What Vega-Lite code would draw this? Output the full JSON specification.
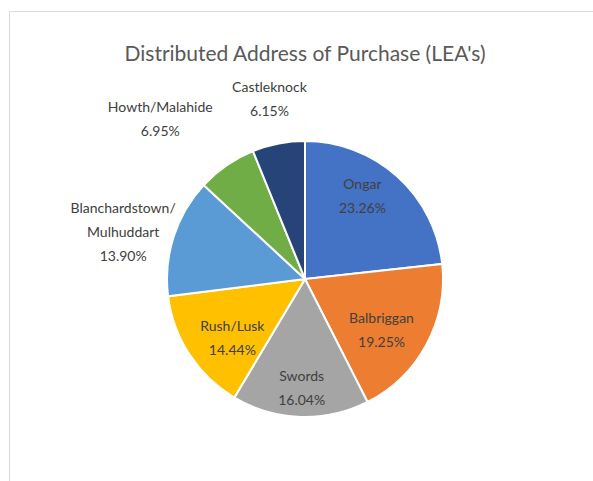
{
  "$schema": "https://vega.github.io/schema/vega-lite/v6.json",
  "autosize": "none",
  "width": 592,
  "height": 536,
  "padding": {"left": 9, "top": 11, "right": 0, "bottom": 0},
  "background": "white",
  "view": {"stroke": "#D9D9D9", "strokeWidth": 1, "fill": "white"},
  "title": {
    "text": "Distributed Address of Purchase (LEA's)",
    "font": "Lato",
    "fontSize": 21,
    "fontWeight": "normal",
    "color": "#595959",
    "anchor": "middle",
    "baseline": "alphabetic",
    "offset": -71
  },
  "data": {
    "values": [
      {"name": "Ongar", "pct": 23.26},
      {"name": "Balbriggan", "pct": 19.25},
      {"name": "Swords", "pct": 16.04},
      {"name": "Rush/Lusk", "pct": 14.44},
      {"name": "Blanchardstown/Mulhuddart", "pct": 13.90},
      {"name": "Howth/Malahide", "pct": 6.95},
      {"name": "Castleknock", "pct": 6.15}
    ]
  },
  "transform": [
    {"calculate": "replace(datum.name, 'n/', 'n/\\n') + '\\n' + format(datum.pct, '.2f') + '%'", "as": "label"}
  ],
  "encoding": {
    "theta": {"field": "pct", "type": "quantitative", "stack": true},
    "order": {"field": "pct", "type": "quantitative", "sort": "descending"}
  },
  "layer": [
    {
      "mark": {"type": "arc", "outerRadius": 138, "stroke": "white", "strokeWidth": 2},
      "encoding": {
        "color": {
          "field": "name",
          "type": "nominal",
          "legend": null,
          "scale": {
            "domain": ["Ongar", "Balbriggan", "Swords", "Rush/Lusk", "Blanchardstown/Mulhuddart", "Howth/Malahide", "Castleknock"],
            "range": ["#4472C4", "#ED7D31", "#A5A5A5", "#FFC000", "#5B9BD5", "#70AD47", "#264478"]
          }
        }
      }
    },
    {
      "mark": {"type": "text", "radius": 101, "dx": -10, "dy": -19, "font": "Lato", "fontSize": 14, "color": "#404040", "lineBreak": "\n", "lineHeight": 24, "baseline": "middle"},
      "encoding": {"text": {"condition": {"test": "datum.name == 'Ongar'", "field": "label"}, "value": ""}}
    },
    {
      "mark": {"type": "text", "radius": 87, "dx": 0, "dy": -1, "font": "Lato", "fontSize": 14, "color": "#404040", "lineBreak": "\n", "lineHeight": 24, "baseline": "middle"},
      "encoding": {"text": {"condition": {"test": "datum.name == 'Balbriggan'", "field": "label"}, "value": ""}}
    },
    {
      "mark": {"type": "text", "radius": 98, "font": "Lato", "fontSize": 14, "color": "#404040", "lineBreak": "\n", "lineHeight": 24, "baseline": "middle"},
      "encoding": {"text": {"condition": {"test": "datum.name == 'Swords'", "field": "label"}, "value": ""}}
    },
    {
      "mark": {"type": "text", "radius": 94, "dx": 6, "dy": -3, "font": "Lato", "fontSize": 14, "color": "#404040", "lineBreak": "\n", "lineHeight": 24, "baseline": "middle"},
      "encoding": {"text": {"condition": {"test": "datum.name == 'Rush/Lusk'", "field": "label"}, "value": ""}}
    },
    {
      "mark": {"type": "text", "radius": 191, "dy": -12, "font": "Lato", "fontSize": 14, "color": "#404040", "lineBreak": "\n", "lineHeight": 24, "baseline": "middle"},
      "encoding": {"text": {"condition": {"test": "datum.name == 'Blanchardstown/Mulhuddart'", "field": "label"}, "value": ""}}
    },
    {
      "mark": {"type": "text", "radius": 200, "dx": -31, "dy": -6, "font": "Lato", "fontSize": 14, "color": "#404040", "lineBreak": "\n", "lineHeight": 24, "baseline": "middle"},
      "encoding": {"text": {"condition": {"test": "datum.name == 'Howth/Malahide'", "field": "label"}, "value": ""}}
    },
    {
      "mark": {"type": "text", "radius": 185, "dy": -9, "font": "Lato", "fontSize": 14, "color": "#404040", "lineBreak": "\n", "lineHeight": 24, "baseline": "middle"},
      "encoding": {"text": {"condition": {"test": "datum.name == 'Castleknock'", "field": "label"}, "value": ""}}
    }
  ]
}
